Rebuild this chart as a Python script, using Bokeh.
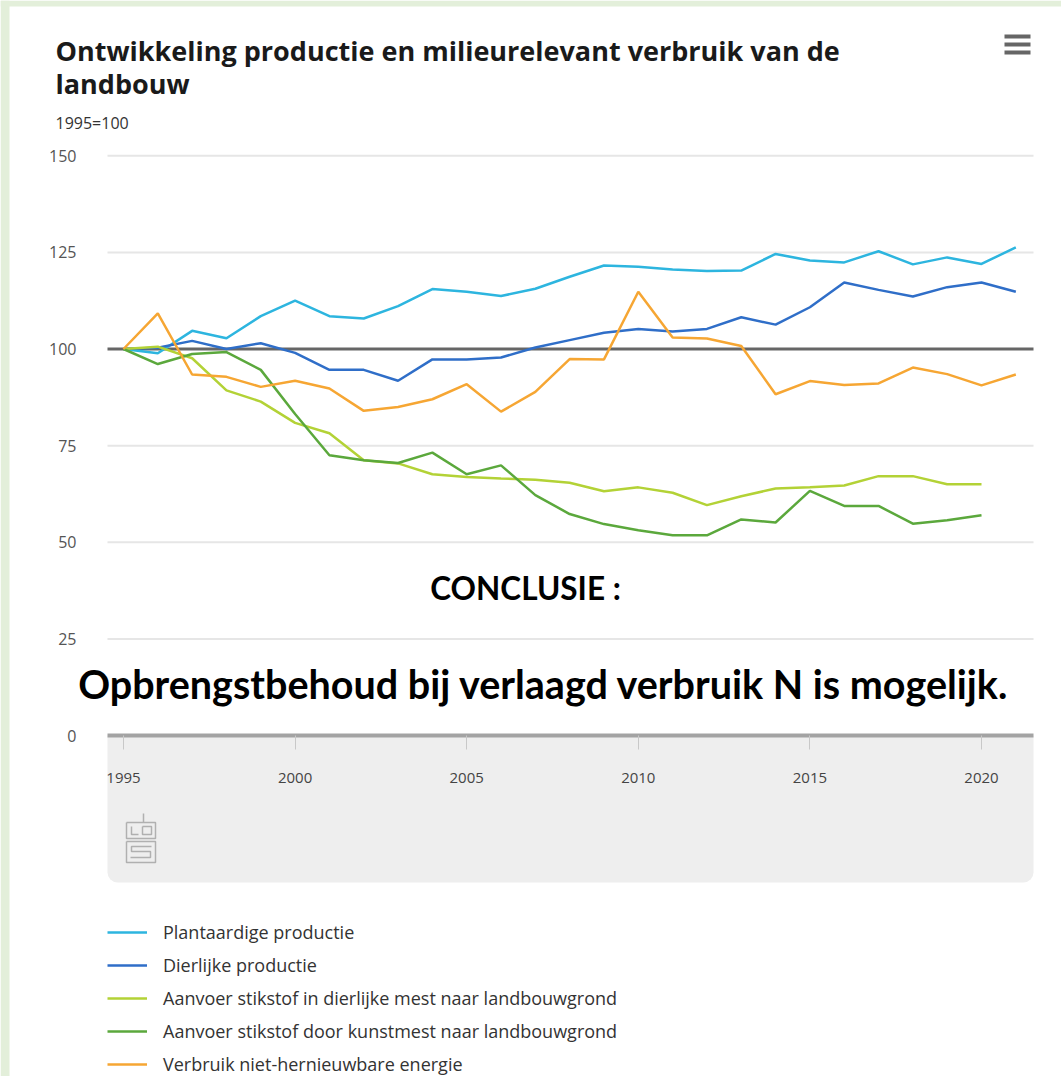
from bokeh.plotting import figure
from bokeh.models import (FixedTicker, Label, BoxAnnotation, Legend, LegendItem, Range1d)
from bokeh.embed import file_html
from bokeh.resources import INLINE

# ---------------- data ----------------
years = list(range(1995, 2022))
tick_years = [1995, 2000, 2005, 2010, 2015, 2020]
y_ticks = [0, 25, 50, 75, 100, 125, 150]
grid_ticks = [25, 50, 75, 125, 150]
base_value = [100]

plantaardig = [100, 98.9, 104.7, 102.8, 108.5, 112.5, 108.5, 107.9, 111.1, 115.5, 114.8,
               113.7, 115.6, 118.7, 121.6, 121.3, 120.6, 120.2, 120.3, 124.6, 122.9, 122.4,
               125.3, 121.9, 123.7, 122.0, 126.3]
dierlijk = [100, 100.3, 102.1, 100.0, 101.5, 99.0, 94.6, 94.6, 91.8, 97.3, 97.3, 97.8,
            100.4, 102.3, 104.2, 105.2, 104.5, 105.2, 108.2, 106.3, 110.8, 117.2, 115.3,
            113.6, 116.0, 117.2, 114.8]
mest = [100, 100.6, 97.6, 89.3, 86.4, 80.9, 78.2, 71.2, 70.4, 67.6, 66.9, 66.5, 66.2,
        65.4, 63.2, 64.2, 62.8, 59.6, 61.9, 63.9, 64.2, 64.7, 67.1, 67.1, 65.0, 65.0]
kunstmest = [100, 96.1, 98.7, 99.2, 94.6, 83.2, 72.5, 71.2, 70.5, 73.2, 67.6, 69.9, 62.2,
             57.3, 54.7, 53.1, 51.8, 51.8, 55.9, 55.1, 63.3, 59.4, 59.4, 54.8, 55.7, 57.0]
energie = [100, 109.2, 93.4, 92.8, 90.2, 91.8, 89.8, 84.0, 85.0, 87.0, 90.9, 83.8, 88.9,
           97.4, 97.3, 114.8, 103.0, 102.7, 100.8, 88.3, 91.7, 90.7, 91.1, 95.2, 93.5,
           90.6, 93.4]

series_names = ["Plantaardige productie", "Dierlijke productie",
                "Aanvoer stikstof in dierlijke mest naar landbouwgrond",
                "Aanvoer stikstof door kunstmest naar landbouwgrond",
                "Verbruik niet-hernieuwbare energie"]
series_colors = ["#2db5df", "#2f6ec8", "#b3d236", "#5ba83c", "#f6a633"]

title_lines = ["Ontwikkeling productie en milieurelevant verbruik van de", "landbouw"]
subtitle = "1995=100"
conclusie = "CONCLUSIE :"
boodschap = "Opbrengstbehoud bij verlaagd verbruik  N is mogelijk."

# ---------------- layout helpers (page pixels -> data) ----------------
W, H = 1061, 1076
PX_PER_YEAR = 34.32
PX_PER_UNIT = 3.865
X_ORIGIN, Y_ORIGIN = 123, 735   # page position of 1995 / value 0


def px(x):
    return 1995 + (x - X_ORIGIN) / PX_PER_YEAR


def py(y):
    return (Y_ORIGIN - y) / PX_PER_UNIT


PLOT_L, PLOT_R = px(107), px(1033)

p = figure(width=W, height=H, x_range=Range1d(px(0), px(W)), y_range=Range1d(py(H), py(0)),
           output_backend="svg", toolbar_location=None,
           min_border_left=0, min_border_right=0, min_border_top=0, min_border_bottom=0)
p.title.visible = False
p.outline_line_color = None
p.background_fill_color = "white"
p.border_fill_color = "white"

# pale green page frame
p.add_layout(BoxAnnotation(left=px(0), right=px(9), top=py(0), bottom=py(H),
                           fill_color="#e3efda", fill_alpha=1, line_color=None, level="underlay"))
p.add_layout(BoxAnnotation(left=px(0), right=px(W), top=py(0), bottom=py(6),
                           fill_color="#e3efda", fill_alpha=1, line_color=None, level="underlay"))

# grey box under x-axis
p.add_layout(BoxAnnotation(left=PLOT_L, right=PLOT_R, top=0, bottom=py(882),
                           fill_color="#eeeeee", fill_alpha=1, line_color=None,
                           border_radius=(0, 0, 10, 10), level="underlay"))

# axes
p.xaxis.fixed_location = 0
p.xaxis.ticker = FixedTicker(ticks=tick_years)
p.xaxis.axis_line_color = "#a3a3a3"
p.xaxis.axis_line_width = 4
p.xaxis.major_tick_line_color = "#c8c8c8"
p.xaxis.major_tick_in = 0
p.xaxis.major_tick_out = 14
p.xaxis.minor_tick_line_color = None
p.xaxis.major_label_standoff = 23
p.xaxis.major_label_text_font = "Open Sans"
p.xaxis.major_label_text_font_size = "15px"
p.xaxis.major_label_text_color = "#444444"
p.xaxis.bounds = (PLOT_L, PLOT_R)

p.yaxis.fixed_location = PLOT_L
p.yaxis.ticker = FixedTicker(ticks=y_ticks)
p.yaxis.axis_line_color = None
p.yaxis.major_tick_line_color = None
p.yaxis.minor_tick_line_color = None
p.yaxis.major_label_standoff = 25
p.yaxis.major_label_text_font = "Open Sans"
p.yaxis.major_label_text_font_size = "16px"
p.yaxis.major_label_text_color = "#555555"

p.xgrid.grid_line_color = None
p.ygrid.grid_line_color = None

# horizontal grid lines limited to the plot area
p.segment(x0=[PLOT_L] * len(grid_ticks), x1=[PLOT_R] * len(grid_ticks), y0=grid_ticks, y1=grid_ticks,
          line_color="#e6e6e6", line_width=2)
p.segment(x0=[PLOT_L], x1=[PLOT_R], y0=base_value, y1=base_value, line_color="#666666", line_width=3)

# series
renderers = []
for vals, col in zip([plantaardig, dierlijk, mest, kunstmest, energie], series_colors):
    r = p.line(years[:len(vals)], vals, line_color=col, line_width=2.5)
    renderers.append(r)

legend = Legend(items=[LegendItem(label=n, renderers=[r]) for n, r in zip(series_names, renderers)],
                location=(107, 0), orientation="vertical", border_line_color=None,
                background_fill_alpha=0, padding=0, margin=0, spacing=9,
                glyph_width=40, glyph_height=20, label_height=20, label_standoff=16,
                label_text_font="Open Sans", label_text_font_size="18px",
                label_text_color="#333333", label_text_baseline="middle")
p.add_layout(legend)

# title + subtitle
p.add_layout(Label(x=px(55), y=py(50), text=title_lines[0], text_font="Open Sans",
                   text_font_style="bold", text_font_size="27px", text_color="#1a1a1a",
                   text_baseline="alphabetic"))
p.add_layout(Label(x=px(55), y=py(83), text=title_lines[1], text_font="Open Sans",
                   text_font_style="bold", text_font_size="27px", text_color="#1a1a1a",
                   text_baseline="alphabetic"))
p.add_layout(Label(x=px(55), y=py(122), text=subtitle, text_font="Open Sans",
                   text_font_size="16px", text_color="#333333", text_baseline="alphabetic"))

# hamburger menu icon
for yy in (36, 44, 52):
    p.add_layout(BoxAnnotation(left=px(1004), right=px(1030), top=py(yy - 2), bottom=py(yy + 2),
                               fill_color="#666666", fill_alpha=1, line_color=None))

# conclusion texts
p.add_layout(Label(x=px(525), y=py(587), text=conclusie, text_font="Lato",
                   text_font_style="bold", text_font_size="31.5px", text_color="#000000",
                   text_align="center", text_baseline="alphabetic"))
p.add_layout(Label(x=px(548), y=py(683), text=boodschap, text_font="Lato",
                   text_font_style="bold", text_font_size="39.5px", text_color="#000000",
                   text_align="center", text_baseline="alphabetic"))

# CBS logo (decoration)
logo = [
    [(143, 813), (143, 822)],
    [(126, 822), (155, 822), (155, 838), (126, 838), (126, 822)],
    [(131, 826), (131, 834), (138, 834)],
    [(142, 826), (151, 826), (151, 834), (142, 834), (142, 826)],
    [(126, 841), (155, 841), (155, 862), (126, 862), (126, 841)],
    [(151, 846), (131, 846), (131, 851), (150, 851), (150, 857), (130, 857)],
]
p.multi_line([[px(a) for a, b in seg] for seg in logo], [[py(b) for a, b in seg] for seg in logo],
             line_color="#b0b0b0", line_width=1.5)

open("out.html", "w").write(file_html(p, INLINE))
